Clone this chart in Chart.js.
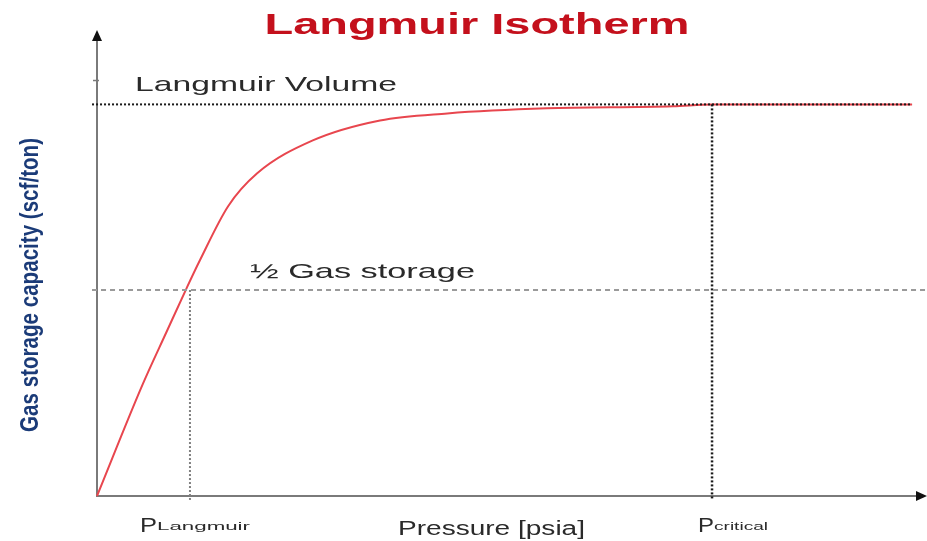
<!DOCTYPE html>
<html>
<head>
<meta charset="utf-8">
<script src="https://cdn.jsdelivr.net/npm/chart.js@4"></script>
<style>
  html, body { margin: 0; padding: 0; background: #ffffff; }
  #wrap { width: 927px; height: 541px; position: relative; }
</style>
</head>
<body>
<div id="wrap"><canvas id="c" width="927" height="541"></canvas></div>
<script>
// ---- data (pressure in axis units 0..100, capacity as fraction of Langmuir volume) ----
const pressure = [0, 5.5, 8.4, 10.8, 12.4, 15.8, 19.3, 26.0, 34.1, 42.2, 54.2, 69.4, 74.1, 98.2];
const capacity = [0, 0.285, 0.420, 0.531, 0.602, 0.740, 0.824, 0.908, 0.959, 0.977, 0.990, 0.995, 1.0, 1.0];

const langmuirVolume = 1.0;
const halfStorage = 0.526;
const pLangmuir = 11.2;
const pCritical = 74.1;
const xRange = [0, 100];
const yRange = [0, 1.19];
const yTickMarks = [1.061];

const titleText = 'Langmuir Isotherm';
const yLabel = 'Gas storage capacity (scf/ton)';
const xLabel = 'Pressure [psia]';
const volumeLabel = 'Langmuir Volume';
const halfLabel = '\u00BD Gas storage';
const pLangLabel = ['P', 'Langmuir'];
const pCritLabel = ['P', 'critical'];

const curve = pressure.map((p, i) => ({ x: p, y: capacity[i] }));

function fitText(ctx, text, x, y, w, font, color, align) {
  ctx.save();
  ctx.font = font;
  ctx.fillStyle = color;
  ctx.textBaseline = 'alphabetic';
  ctx.textAlign = 'left';
  const m = ctx.measureText(text).width;
  const s = w / m;
  let x0 = x;
  if (align === 'center') x0 = x - w / 2;
  ctx.translate(x0, y);
  ctx.scale(s, 1);
  ctx.fillText(text, 0, 0);
  ctx.restore();
}

const decor = {
  id: 'decor',
  beforeDatasetsDraw(chart) {
    const ctx = chart.ctx;
    const xs = chart.scales.x, ys = chart.scales.y;
    const x0 = xs.getPixelForValue(0), y0 = ys.getPixelForValue(0);
    const right = chart.width, top = chart.chartArea.top;
    ctx.save();
    ctx.strokeStyle = '#7a7a7a';
    ctx.fillStyle = '#111';
    ctx.lineWidth = 2;
    // y axis
    ctx.beginPath(); ctx.moveTo(x0, y0 + 1); ctx.lineTo(x0, top + 8); ctx.stroke();
    ctx.beginPath(); ctx.moveTo(x0, top); ctx.lineTo(x0 - 5, top + 11); ctx.lineTo(x0 + 5, top + 11); ctx.closePath(); ctx.fill();
    // x axis
    ctx.beginPath(); ctx.moveTo(x0 - 1, y0); ctx.lineTo(right - 8, y0); ctx.stroke();
    ctx.beginPath(); ctx.moveTo(right, y0); ctx.lineTo(right - 11, y0 - 5); ctx.lineTo(right - 11, y0 + 5); ctx.closePath(); ctx.fill();
    // small tick marks
    ctx.lineWidth = 1.5;
    yTickMarks.forEach(v => {
      const yy = ys.getPixelForValue(v);
      ctx.beginPath(); ctx.moveTo(x0 - 4, yy); ctx.lineTo(x0 + 2, yy); ctx.stroke();
    });
    ctx.restore();
  },
  afterDraw(chart) {
    const ctx = chart.ctx;
    const ys = chart.scales.y;
    // title
    fitText(ctx, titleText, 477, 34, 425, 'bold 29px "Liberation Sans", Arial, sans-serif', '#c4101c', 'center');
    // annotations
    fitText(ctx, volumeLabel, 135, ys.getPixelForValue(langmuirVolume) - 13, 262, '21px "Liberation Sans", Arial, sans-serif', '#2a2a2a', 'left');
    fitText(ctx, halfLabel, 250, ys.getPixelForValue(halfStorage) - 12, 225, '21px "Liberation Sans", Arial, sans-serif', '#2a2a2a', 'left');
    // x axis label
    fitText(ctx, xLabel, 398, 535, 187, '20px "Liberation Sans", Arial, sans-serif', '#2a2a2a', 'left');
    // P labels
    fitText(ctx, pLangLabel[0], 140, 532, 17, '20px "Liberation Sans", Arial, sans-serif', '#2a2a2a', 'left');
    fitText(ctx, pLangLabel[1], 157, 530, 93, '10px "Liberation Sans", Arial, sans-serif', '#2a2a2a', 'left');
    fitText(ctx, pCritLabel[0], 698, 532, 16, '20px "Liberation Sans", Arial, sans-serif', '#2a2a2a', 'left');
    fitText(ctx, pCritLabel[1], 714, 530, 54, '10px "Liberation Sans", Arial, sans-serif', '#2a2a2a', 'left');
    // y axis label (rotated)
    ctx.save();
    ctx.translate(38, 285);
    ctx.rotate(-Math.PI / 2);
    fitText(ctx, yLabel, 0, 0, 294, 'bold 25px "Liberation Sans Narrow", "Liberation Sans", Arial, sans-serif', '#1b3b78', 'center');
    ctx.restore();
  }
};

new Chart(document.getElementById('c'), {
  type: 'scatter',
  data: {
    datasets: [
      {
        label: 'Langmuir Volume',
        data: [{ x: -0.6, y: langmuirVolume }, { x: 98.2, y: langmuirVolume }],
        showLine: true, borderColor: '#1a1a1a', borderWidth: 2, borderDash: [2, 2],
        pointRadius: 0, clip: false
      },
      {
        label: '1/2 Gas storage',
        data: [{ x: -0.6, y: halfStorage }, { x: 100, y: halfStorage }],
        showLine: true, borderColor: '#9a9a9a', borderWidth: 2, borderDash: [5, 4],
        pointRadius: 0, clip: false
      },
      {
        label: 'P Langmuir',
        data: [{ x: pLangmuir, y: halfStorage }, { x: pLangmuir, y: -0.01 }],
        showLine: true, borderColor: '#808080', borderWidth: 2, borderDash: [2, 2],
        pointRadius: 0, clip: false
      },
      {
        label: 'P critical',
        data: [{ x: pCritical, y: langmuirVolume }, { x: pCritical, y: -0.01 }],
        showLine: true, borderColor: '#1a1a1a', borderWidth: 2.5, borderDash: [2, 2],
        pointRadius: 0, clip: false
      },
      {
        label: 'Isotherm',
        data: curve,
        showLine: true, borderColor: '#e8464e', borderWidth: 2,
        cubicInterpolationMode: 'monotone',
        pointRadius: 0, clip: false
      }
    ]
  },
  options: {
    responsive: false,
    animation: false,
    layout: { padding: { left: 97, top: 30, right: 0, bottom: 45 } },
    plugins: { legend: { display: false }, tooltip: { enabled: false }, title: { display: false } },
    scales: {
      x: { type: 'linear', min: xRange[0], max: xRange[1], display: false },
      y: { type: 'linear', min: yRange[0], max: yRange[1], display: false }
    }
  },
  plugins: [decor]
});
</script>
</body>
</html>
